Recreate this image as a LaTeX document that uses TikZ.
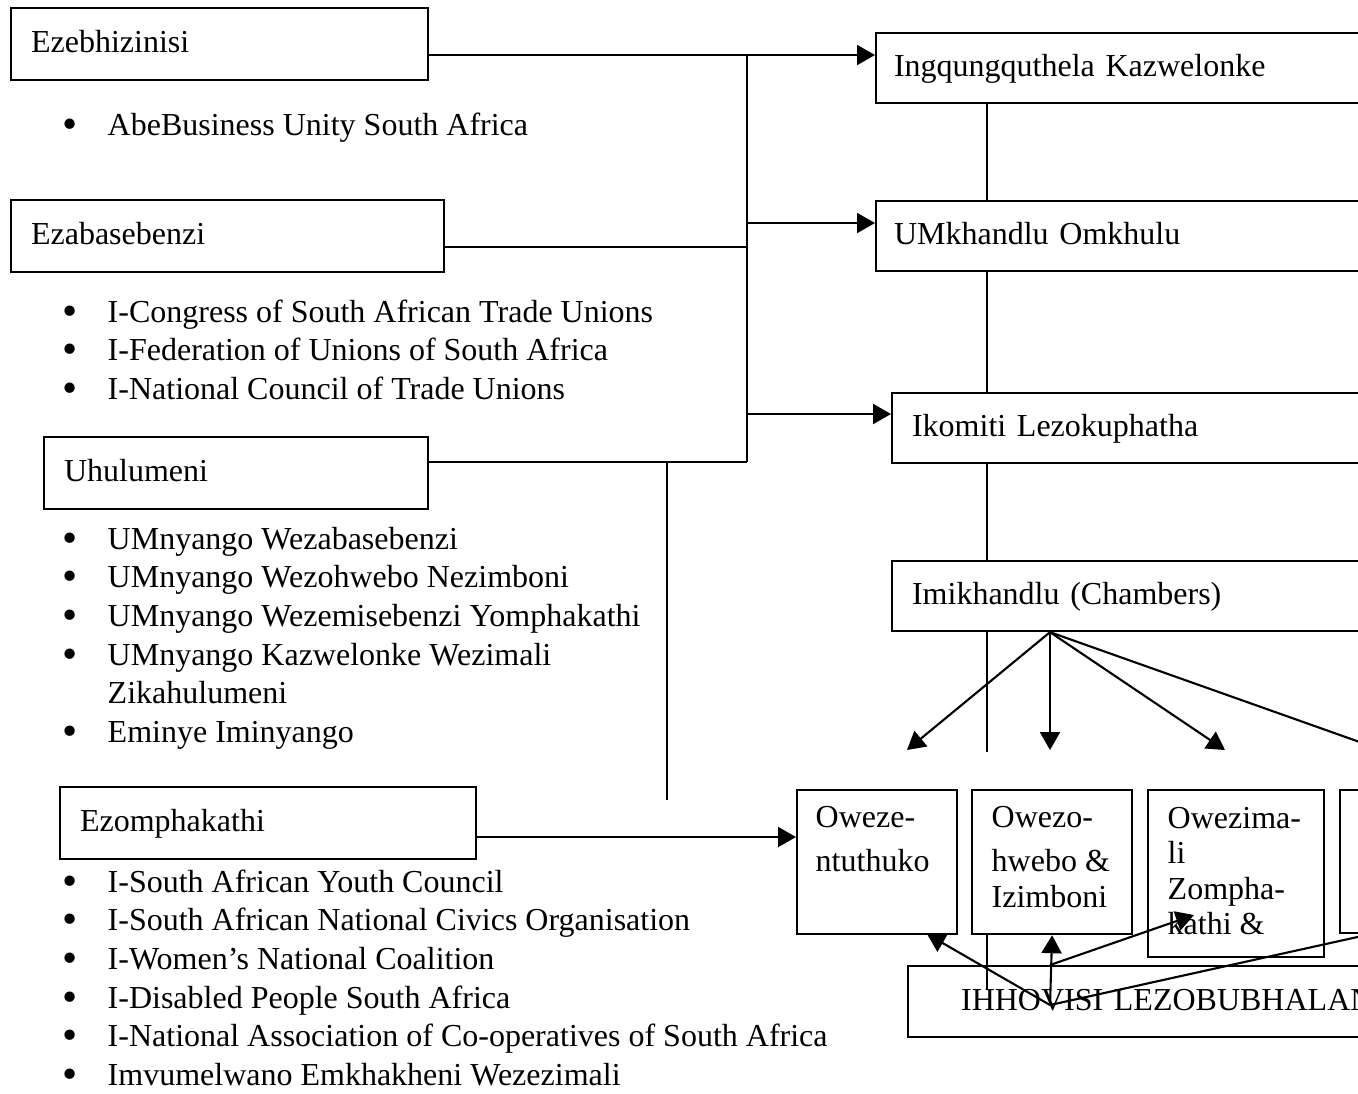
\documentclass[tikz,border=0pt]{standalone}
\usepackage{fontspec}
\usepackage{graphicx}
\setmainfont{Liberation Serif}
\usetikzlibrary{arrows.meta,positioning}
\tikzstyle{box} = [draw, fill=white, rectangle, line width=0.6pt,
    inner xsep=0.2cm, inner ysep=0pt, anchor=north west,
    text height=0.68em, text depth=0.18em]
\tikzstyle{subbox} = [draw, fill=white, rectangle, line width=0.6pt,
    inner sep=0pt, anchor=north west]
\tikzstyle{items} = [anchor=base west, inner sep=0pt]
\tikzstyle{line} = [line width=0.6pt]
\tikzstyle{arr} = [line width=0.6pt, -{Triangle[length=0.18cm,width=0.2cm]}]
\newcommand{\lines}[1]{\begin{tabular}[t]{@{}l@{}}#1\end{tabular}}
\newcommand{\itemlist}[1]{\vtop{\let\\\cr\halign{##\hfil\cr#1\crcr}}}
\newcommand{\bl}{\makebox[0.45cm][l]{\raisebox{-0.1em}{\scalebox{1.35}{\textbullet}}}}

\begin{document}
\begin{tikzpicture}[x=0.01cm, y=-0.01cm, font=\fontsize{9.1}{11}\selectfont]
    \useasboundingbox (0,0) rectangle (1358,1093);
    \clip (0,0) rectangle (1358,1093);

    % Stakeholder boxes
    \node [box, text width=3.77cm, minimum height=0.72cm] (bus) at (10,7) {Ezebhizinisi};
    \node [box, text width=3.93cm, minimum height=0.72cm] (lab) at (10,199) {Ezabasebenzi};
    \node [box, text width=3.44cm, minimum height=0.72cm] (gov) at (43,436) {Uhulumeni};
    \node [box, text width=3.76cm, minimum height=0.72cm] (com) at (59,786) {Ezomphakathi};

    % Member lists
    \node [items] (busl) at (62,135) {\itemlist{\bl AbeBusiness Unity South Africa}};
    \node [items] (labl) at (62,322) {\itemlist{\bl I-Congress of South African Trade Unions\\
        \bl I-Federation of Unions of South Africa\\
        \bl I-National Council of Trade Unions}};
    \node [items] (govl) at (62,549) {\itemlist{\bl UMnyango Wezabasebenzi\\
        \bl UMnyango Wezohwebo Nezimboni\\
        \bl UMnyango Wezemisebenzi Yomphakathi\\
        \bl UMnyango Kazwelonke Wezimali\\
        \hspace{0.45cm}Zikahulumeni\\
        \bl Eminye Iminyango}};
    \node [items] (coml) at (62,892) {\itemlist{\bl I-South African Youth Council\\
        \bl I-South African National Civics Organisation\\
        \bl I-Women's National Coalition\\
        \bl I-Disabled People South Africa\\
        \bl I-National Association of Co-operatives of South Africa\\
        \bl Imvumelwano Emkhakheni Wezezimali}};

    % Structures on the right
    \node [box, inner xsep=0.18cm, text width=4.84cm, minimum height=0.7cm] (ingq) at (875,32) {Ingqungquthela Kazwelonke};
    \node [box, inner xsep=0.18cm, text width=4.84cm, minimum height=0.7cm] (umk) at (875,200) {UMkhandlu Omkhulu};
    \node [box, text width=4.8cm, minimum height=0.7cm] (ikom) at (891,392) {Ikomiti Lezokuphatha};
    \node [box, text width=4.8cm, minimum height=0.7cm] (imik) at (891,560) {Imikhandlu (Chambers)};

    % Chamber boxes
    \node [subbox, minimum width=1.6cm, minimum height=1.44cm] (owd) at (796,789) {};
    \node [subbox, minimum width=1.6cm, minimum height=1.44cm] (owt) at (971,789) {};
    \node [subbox, minimum width=1.76cm, minimum height=1.67cm] (owm) at (1147,789) {};
    \node [subbox, minimum width=1.6cm, minimum height=1.43cm] (ow4) at (1339,789) {};
    \node [items] (owdt) at ([xshift=0.19cm,yshift=-0.38cm]owd.north west)
        {\lines{Oweze-\\[0.06cm]ntuthuko}};
    \node [items] (owtt) at ([xshift=0.2cm,yshift=-0.38cm]owt.north west)
        {\renewcommand{\arraystretch}{0.92}\lines{Owezo-\\[0.09cm]hwebo \&\\Izimboni}};
    \node [items] (owmt) at ([xshift=0.2cm,yshift=-0.39cm]owm.north west)
        {\renewcommand{\arraystretch}{0.92}\lines{Owezima-\\li\\Zompha-\\kathi \&}};

    % Secretariat
    \node [box, inner xsep=0.53cm, text width=4.3cm, minimum height=0.71cm] (ihh) at (907,965) {IHHOVISI LEZOBUBHALAN};

    % Junction points
    \coordinate (bt) at (747,55);
    \coordinate (bb) at (747,462);
    \coordinate (jl) at (747,247);
    \coordinate (ju) at (747,223);
    \coordinate (jk) at (747,414);
    \coordinate (drop) at (667,800);
    \coordinate (jc) at (500,837);
    \coordinate (sp) at (987,0);
    \coordinate (spend) at (987,752);
    \coordinate (sp2) at (987,990);
    \coordinate (t1) at (907,750);
    \coordinate (t2) at (1050,750);
    \coordinate (t3) at (1225,750);
    \coordinate (t4) at (1385,751);
    \coordinate (hub) at (1050,1005);
    \coordinate (u1) at (927,934);
    \coordinate (u3) at (1194,915);
    \coordinate (u4) at (1380,932);

    % Stakeholders into the bus
    \draw [line] (bus.east |- bt) -- (bt) -- (bb);
    \draw [line] (lab.east |- jl) -- (jl);
    \draw [line] (gov.east |- bb) -- (bb);
    \draw [line] (bb -| drop) -- (drop);
    \draw [arr] (bt) -- (ingq.west |- bt);
    \draw [arr] (ju) -- (umk.west |- ju);
    \draw [arr] (jk) -- (ikom.west |- jk);
    \draw [arr] (com.east |- jc) -- (owd.west |- jc);

    % Spine
    \draw [line] (ingq.south -| sp) -- (umk.north -| sp);
    \draw [line] (umk.south -| sp) -- (ikom.north -| sp);
    \draw [line] (ikom.south -| sp) -- (imik.north -| sp);
    \draw [line] (imik.south -| sp) -- (spend);
    \draw [line] (owt.south -| sp) -- (sp2);

    % Chambers fan out
    \draw [arr] (imik.south -| t2) -- (t1);
    \draw [arr] (imik.south -| t2) -- (t2);
    \draw [arr] (imik.south -| t2) -- (t3);
    \draw [arr] (imik.south -| t2) -- (t4);

    % Secretariat serves the chambers
    \draw [arr] (hub) -- (u1);
    \draw [arr] (hub) -- (owt.south);
    \draw [arr] (ihh.north -| hub) -- (u3);
    \draw [arr] (hub) -- (u4);
\end{tikzpicture}
\end{document}
